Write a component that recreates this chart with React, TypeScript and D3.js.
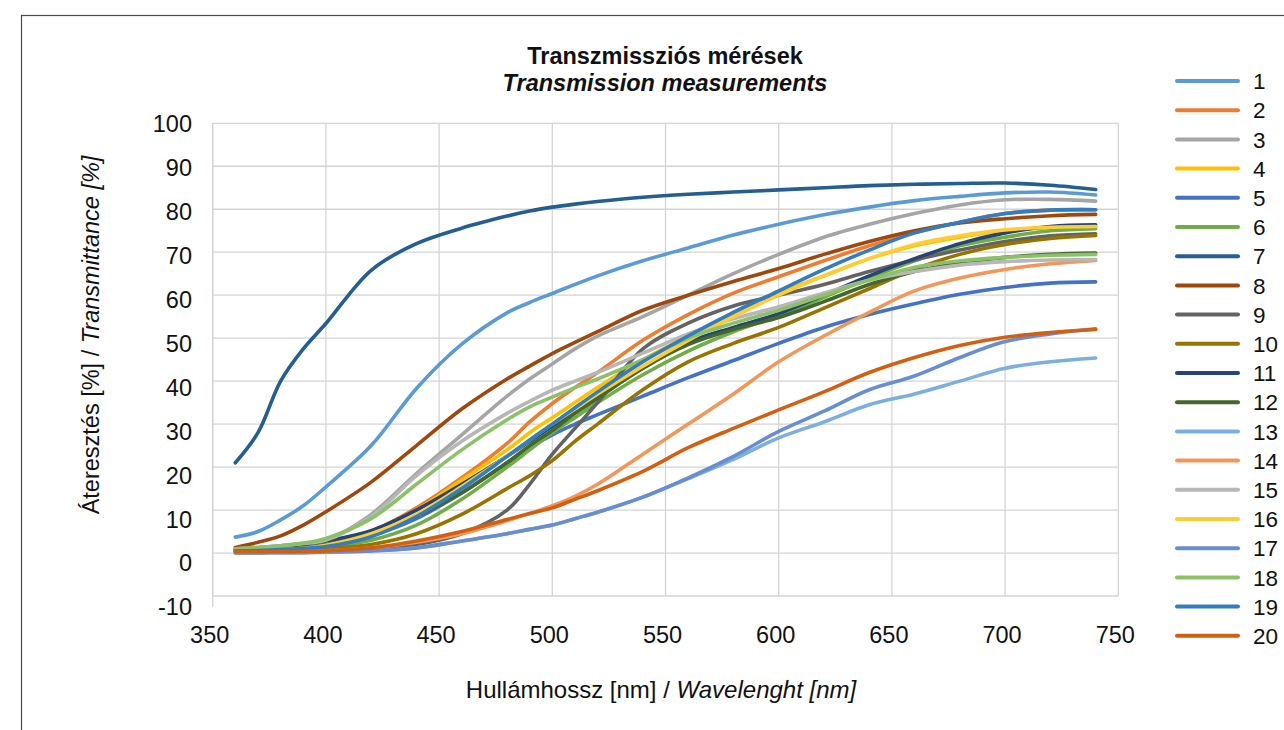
import React from "react";
import * as d3 from "d3";

const wavelengths = [360, 370, 380, 390, 400, 420, 440, 460, 480, 490, 500, 510, 520, 540, 560, 580, 600, 620, 640, 660, 680, 700, 720, 740];

const seriesNames = ["1", "2", "3", "4", "5", "6", "7", "8", "9", "10", "11", "12", "13", "14", "15", "16", "17", "18", "19", "20"];

const s1 = [3.7, 5, 7.7, 11, 15.4, 25, 38.3, 48.6, 55.9, 58.3, 60.4, 62.5, 64.5, 68, 71, 74, 76.5, 78.7, 80.5, 82, 83, 83.8, 84, 83.3];
const s2 = [0.5, 0.6, 0.8, 1.2, 2, 5, 10.5, 17.5, 25.5, 30.5, 34.8, 38.5, 42, 49.5, 55.5, 60.5, 64.3, 68, 71.5, 74.5, 77, 79, 79.8, 79.9];
const s3 = [1, 1.3, 1.7, 2.2, 3, 9, 18.5, 27.5, 36.5, 40.5, 44, 47.5, 50.5, 55, 60, 65, 69.5, 73.5, 76.5, 79, 81, 82.2, 82.3, 81.9];
const s4 = [0.5, 0.6, 0.8, 1.2, 2, 5, 10, 17, 24, 28, 31.5, 35, 38.5, 45, 50.5, 55.5, 60.5, 64.5, 68.5, 71.5, 73.5, 75, 75.7, 75.9];
const s5 = [0.5, 0.5, 0.6, 0.8, 1.5, 4, 8, 14, 21, 24.5, 27.5, 30, 32.2, 36.5, 40.8, 44.8, 48.8, 52.5, 55.5, 58, 60.2, 61.8, 62.8, 63.1];
const s6 = [0.5, 0.6, 0.8, 1.1, 1.5, 3, 6.5, 12.5, 20, 24, 28, 31.5, 35, 41.5, 47, 51.5, 55.3, 59.5, 64, 68, 71.5, 73.5, 75, 75.5];
const s7 = [21, 28, 40, 47.5, 53.4, 65.8, 72, 75.6, 78.4, 79.6, 80.5, 81.2, 81.8, 82.8, 83.5, 84, 84.5, 85, 85.5, 85.8, 86, 86.1, 85.6, 84.6];
const s8 = [1.3, 2.5, 4, 6.5, 9.6, 16.5, 25, 33.5, 40.5, 43.5, 46.4, 49, 51.5, 56.5, 60, 63.2, 66.2, 69.5, 72.5, 75, 76.8, 77.8, 78.5, 78.8];
const s9 = [0.3, 0.3, 0.3, 0.4, 0.5, 1, 2, 4.5, 10, 16, 23, 29, 35, 47.5, 53.5, 57.5, 60, 62.5, 65.5, 68.2, 70.5, 72.5, 73.8, 74.3];
const s10 = [0.5, 0.5, 0.6, 0.8, 1, 2, 4.5, 9, 15, 18, 21.5, 26, 30, 38, 44.5, 48.8, 52.5, 57, 61.5, 66, 69.5, 71.8, 73.2, 73.9];
const s11 = [1, 1.2, 1.5, 2, 2.8, 5.2, 10, 16, 22.5, 26, 29.5, 33, 36.5, 43, 49, 52.5, 55.7, 60, 64.5, 68.5, 72, 74.5, 76, 76.4];
const s12 = [0.8, 0.9, 1, 1.4, 2, 4.5, 8.5, 14, 21, 25, 28.5, 32.5, 36, 43, 48.5, 52, 54.8, 58.5, 62.5, 65.5, 67.5, 68.8, 69.5, 69.8];
const s13 = [0, 0, 0.1, 0.1, 0.2, 0.5, 1.2, 2.8, 4.5, 5.5, 6.5, 8, 9.5, 13, 17.3, 21.8, 26.8, 30.5, 34.5, 37, 40, 43, 44.5, 45.4];
const s14 = [0.2, 0.2, 0.3, 0.4, 0.5, 1.2, 2.5, 4.5, 7.5, 9.2, 11, 13.2, 16, 23, 30, 37, 44.5, 50.5, 56, 61, 64, 66, 67.3, 68.1];
const s15 = [1, 1.3, 1.7, 2.2, 3, 8.5, 18, 26, 32.5, 35.3, 37.9, 40, 42, 46.5, 51, 54.5, 57.3, 60.5, 63.5, 65.5, 67, 67.8, 68.2, 68.3];
const s16 = [0.5, 0.6, 0.8, 1.1, 1.8, 4.5, 9, 15.5, 22.5, 26.3, 30, 33.5, 37, 43.5, 49.5, 55, 60, 64.5, 68.5, 71.8, 73.8, 75.2, 75.8, 76];
const s17 = [0, 0, 0.1, 0.1, 0.2, 0.5, 1.2, 2.8, 4.5, 5.5, 6.5, 8, 9.5, 13, 17.5, 22.5, 28.3, 33, 38, 41.2, 45.5, 49.2, 51, 52.2];
const s18 = [1, 1.3, 1.7, 2.3, 3.4, 8, 16, 24, 31, 34, 36.3, 38.5, 40.5, 45, 50, 53.5, 56.5, 60, 63.5, 66.5, 68, 68.8, 69.3, 69.5];
const s19 = [0.5, 0.6, 0.8, 1.1, 1.5, 3.8, 8.5, 15, 22.5, 26.3, 30, 33.8, 37.5, 44.5, 50.5, 56, 61, 66, 70.5, 74.5, 77, 79, 79.8, 79.9];
const s20 = [0.3, 0.3, 0.3, 0.4, 0.5, 1.2, 2.8, 5, 7.8, 9.2, 10.5, 12.5, 14.5, 19, 24.5, 29, 33.3, 37.5, 42, 45.5, 48.3, 50.2, 51.3, 52];

const seriesValues = [s1, s2, s3, s4, s5, s6, s7, s8, s9, s10, s11, s12, s13, s14, s15, s16, s17, s18, s19, s20];

const seriesColors = [
  "#5B9BD5", "#ED7D31", "#A5A5A5", "#FFC000", "#4472C4",
  "#70AD47", "#255E91", "#9E480E", "#636363", "#997300",
  "#264478", "#43682B", "#7CAFDD", "#F1975A", "#B7B7B7",
  "#FFCD33", "#698ED0", "#8CC168", "#327DC2", "#D26012",
];

const xTicks = [350, 400, 450, 500, 550, 600, 650, 700, 750];
const yTicks = [-10, 0, 10, 20, 30, 40, 50, 60, 70, 80, 90, 100];

const FONT = "'Liberation Sans', Arial, Helvetica, sans-serif";

export default function App() {
  const W = 1284;
  const H = 730;
  const left = 212.7;
  const right = 1118.3;
  const top = 123.3;
  const bottom = 596;

  const x = d3.scaleLinear().domain([350, 750]).range([left, right]);
  const y = d3.scaleLinear().domain([-10, 100]).range([bottom, top]);

  const line = d3
    .line<number>()
    .x((_, i) => x(wavelengths[i]))
    .y((d) => y(d))
    .curve(d3.curveCatmullRom.alpha(0.5));

  const gridColor = "#d4d4d4";

  return (
    <svg
      width={W}
      height={H}
      viewBox={`0 0 ${W} ${H}`}
      style={{ position: "absolute", left: 0, top: 0, background: "#fff" }}
    >
      <rect x={0} y={0} width={W} height={H} fill="#fff" />
      <rect x={21.5} y={15.5} width={1400} height={900} fill="none" stroke="#4a4a4a" strokeWidth={1.2} />

      {/* title */}
      <text x={665} y={64} textAnchor="middle" fontFamily={FONT} fontSize={23.5} fontWeight="bold" fill="#111">
        Transzmissziós mérések
      </text>
      <text x={665} y={91} textAnchor="middle" fontFamily={FONT} fontSize={23.5} fontWeight="bold" fontStyle="italic" fill="#111">
        Transmission measurements
      </text>

      {/* grid */}
      {yTicks.map((t) => (
        <line key={"gy" + t} x1={left} x2={right} y1={y(t)} y2={y(t)} stroke={gridColor} strokeWidth={1.3} />
      ))}
      {xTicks.map((t) => (
        <line key={"gx" + t} x1={x(t)} x2={x(t)} y1={top} y2={bottom} stroke={gridColor} strokeWidth={1.3} />
      ))}
      <line x1={left} x2={left} y1={top} y2={bottom + 11} stroke={gridColor} strokeWidth={1.3} />

      {/* y tick labels */}
      {yTicks.map((t) => (
        <text
          key={"ly" + t}
          x={192}
          y={y(t) + (100 - t) * 0.1}
          dy="0.36em"
          textAnchor="end"
          fontFamily={FONT}
          fontSize={23.5}
          fill="#111"
        >
          {t}
        </text>
      ))}

      {/* x tick labels */}
      {xTicks.map((t) => (
        <text key={"lx" + t} x={x(t) - 3} y={643} textAnchor="middle" fontFamily={FONT} fontSize={23.5} fill="#111">
          {t}
        </text>
      ))}

      {/* axis titles */}
      <text
        transform={`translate(99, 335) rotate(-90)`}
        textAnchor="middle"
        fontFamily={FONT}
        fontSize={23.5}
        fill="#111"
      >
        Áteresztés [%] / <tspan fontStyle="italic">Transmittance [%]</tspan>
      </text>
      <text x={661} y={698} textAnchor="middle" fontFamily={FONT} fontSize={24} fill="#111">
        Hullámhossz [nm] / <tspan fontStyle="italic">Wavelenght [nm]</tspan>
      </text>

      {/* series */}
      {seriesValues.map((vals, i) => (
        <path
          key={"s" + i}
          d={line(vals) || ""}
          fill="none"
          stroke={seriesColors[i]}
          strokeWidth={3.6}
          strokeLinecap="round"
          strokeLinejoin="round"
        />
      ))}

      {/* legend */}
      {seriesNames.map((name, i) => {
        const ly = 81 + i * 29.2;
        return (
          <g key={"lg" + i}>
            <line x1={1177} x2={1238} y1={ly} y2={ly} stroke={seriesColors[i]} strokeWidth={4} strokeLinecap="round" />
            <text x={1253} y={ly} dy="0.36em" fontFamily={FONT} fontSize={22.5} fill="#111">
              {name}
            </text>
          </g>
        );
      })}
    </svg>
  );
}
